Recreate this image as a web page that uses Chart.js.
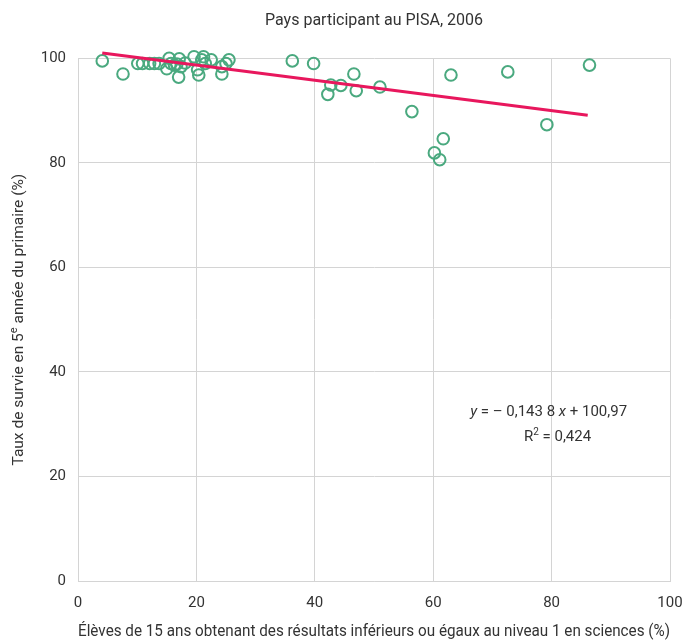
<!DOCTYPE html>
<html>
<head>
<meta charset="utf-8">
<script src="https://cdn.jsdelivr.net/npm/chart.js@4/dist/chart.umd.min.js"></script>
<style>
    html, body { margin: 0; background: #fff; }
    #wrap { width: 685px; height: 642px; }
</style>
</head>
<body>
<div id="wrap"><canvas id="chart"></canvas></div>
<script>
// values
const xValues = [4.1, 7.6, 10.1, 10.9, 12.1, 12.9, 13.7, 15.0, 15.4, 15.7, 16.3, 16.7, 17.0, 17.1, 17.4, 18.1,
    19.6, 20.2, 20.4, 20.9, 21.2, 21.5, 22.5, 24.3, 24.3, 25.0, 25.5,
    36.2, 39.8, 46.6, 42.7, 44.4, 42.2, 47.0, 51.0, 56.4, 63.0, 72.6, 86.4, 79.2, 61.7, 60.2, 61.1];
const yValues = [99.5, 97.0, 99.0, 99.0, 99.0, 99.0, 99.0, 98.0, 100.0, 99.0, 98.7, 98.9, 96.4, 99.9, 98.4, 99.1,
    100.3, 97.8, 96.8, 99.7, 100.3, 99.0, 99.7, 98.4, 97.0, 99.0, 99.7,
    99.5, 99.0, 97.0, 94.9, 94.8, 93.1, 93.8, 94.5, 89.8, 96.8, 97.4, 98.7, 87.3, 84.6, 81.9, 80.6];
const trendX = [4.1, 86.1];
const trendY = [101.0, 89.1];
const xTicks = [0, 20, 40, 60, 80, 100];
const yTicks = [0, 20, 40, 60, 80, 100];

const titleText = 'Pays participant au PISA, 2006';
const xTitle = 'Élèves de 15 ans obtenant des résultats inférieurs ou égaux au niveau 1 en sciences (%)';
const yTitleParts = [{ t: 'Taux de survie en 5' }, { t: 'e', sup: true }, { t: ' année du primaire (%)' }];
const eqLine1 = [{ t: 'y', it: true }, { t: ' = – 0,143 8 ' }, { t: 'x', it: true }, { t: ' + 100,97' }];
const eqLine2 = [{ t: 'R' }, { t: '2', sup: true }, { t: ' = 0,424' }];

const FONT = 'Roboto, "Noto Sans", sans-serif';
const TEXT = '#333333';
const GRID = '#d4d4d4';
const GREEN = '#4aa97f';
const PINK = '#e8175d';

function partFont(p, size) {
    const s = p.sup ? Math.round(size * 0.68) : size;
    return (p.it ? 'italic ' : '') + s + 'px ' + FONT;
}

function drawRich(ctx, parts, cx, cy, size) {
    let total = 0;
    parts.forEach(p => { ctx.font = partFont(p, size); total += ctx.measureText(p.t).width; });
    let x = cx - total / 2;
    ctx.textAlign = 'left';
    ctx.textBaseline = 'middle';
    parts.forEach(p => {
        ctx.font = partFont(p, size);
        ctx.fillText(p.t, x, p.sup ? cy - size * 0.32 : cy);
        x += ctx.measureText(p.t).width;
    });
}

const textPlugin = {
    id: 'richText',
    afterDraw(chart) {
        const { ctx, chartArea, scales } = chart;
        ctx.save();
        ctx.fillStyle = TEXT;
        // chart title, centred over the plot area
        drawRich(ctx, [{ t: titleText }], (chartArea.left + chartArea.right) / 2, 21, 16);
        // y axis title, rotated
        ctx.save();
        ctx.translate(19, (chartArea.top + chartArea.bottom) / 2);
        ctx.rotate(-Math.PI / 2);
        drawRich(ctx, yTitleParts, 0, 0, 15.5);
        ctx.restore();
        // regression equation
        drawRich(ctx, eqLine1, scales.x.getPixelForValue(79.5), scales.y.getPixelForValue(32.2), 15);
        drawRich(ctx, eqLine2, scales.x.getPixelForValue(81.0), scales.y.getPixelForValue(27.5), 15);
        ctx.restore();
    }
};

const points = xValues.map((x, i) => ({ x, y: yValues[i] }));
const trend = trendX.map((x, i) => ({ x, y: trendY[i] }));

new Chart(document.getElementById('chart'), {
    type: 'scatter',
    data: {
        datasets: [
            {
                label: 'Pays',
                data: points,
                pointStyle: 'circle',
                pointRadius: 5.8,
                pointHoverRadius: 5.8,
                pointBorderWidth: 2,
                pointBorderColor: GREEN,
                pointBackgroundColor: 'rgba(0,0,0,0)',
                clip: false,
                order: 2
            },
            {
                type: 'line',
                label: 'Tendance',
                data: trend,
                borderColor: PINK,
                borderWidth: 3,
                pointRadius: 0,
                fill: false,
                clip: false,
                order: 1
            }
        ]
    },
    options: {
        responsive: true,
        maintainAspectRatio: false,
        animation: false,
        layout: { padding: { top: 58.3, right: 15, bottom: 0, left: 0 } },
        scales: {
            x: {
                type: 'linear',
                min: 0,
                max: 100,
                afterFit: s => { s.height = 61; s.paddingLeft = 0; s.paddingRight = 0; },
                afterBuildTicks: s => { s.ticks = xTicks.map(v => ({ value: v })); },
                ticks: { color: TEXT, padding: 13, font: { family: FONT, size: 15 } },
                grid: { color: GRID, lineWidth: 1, drawTicks: false },
                border: { color: GRID },
                title: {
                    display: true,
                    text: xTitle,
                    color: TEXT,
                    font: { family: FONT, size: 16 },
                    padding: { top: 0, bottom: 0.5 }
                }
            },
            y: {
                type: 'linear',
                min: 0,
                max: 100,
                afterFit: s => { s.width = 78; s.paddingTop = 0; s.paddingBottom = 0; },
                afterBuildTicks: s => { s.ticks = yTicks.map(v => ({ value: v })); },
                ticks: { color: TEXT, padding: 12, font: { family: FONT, size: 15 } },
                grid: { color: GRID, lineWidth: 1, drawTicks: false },
                border: { color: GRID }
            }
        },
        plugins: {
            legend: { display: false },
            tooltip: { enabled: false },
            title: { display: false }
        }
    },
    plugins: [textPlugin]
});
</script>
</body>
</html>
